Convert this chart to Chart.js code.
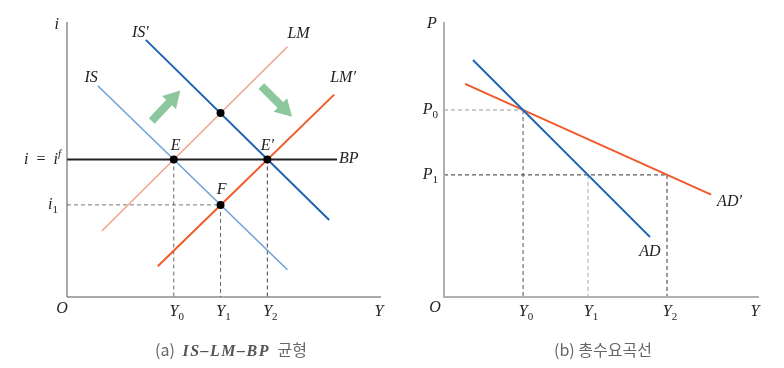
<!DOCTYPE html>
<html>
<head>
<meta charset="utf-8">
<script src="https://cdn.jsdelivr.net/npm/chart.js@4"></script>
<style>
  body { margin: 0; background: #fff; }
  #wrap { position: relative; width: 784px; height: 368px; }
  canvas { position: absolute; top: 0; }
  .cap { position: absolute; top: 337px; font: 16px "Noto Sans CJK KR", "Noto Sans", sans-serif; color: #666; white-space: nowrap; transform: translateX(-50%); }
  .cap i { font-family: "Liberation Serif", serif; font-weight: bold; color: #555; letter-spacing: 1.5px; margin: 0 4px; }
</style>
</head>
<body>
<div id="wrap">
  <canvas id="left" width="392" height="368" style="left:0"></canvas>
  <canvas id="right" width="392" height="368" style="left:392px"></canvas>
  <div class="cap" style="left:231px">(a) <i>IS–LM–BP</i> 균형</div>
  <div class="cap" style="left:603px">(b) 총수요곡선</div>
</div>
<script>
// (a) IS-LM-BP, axis units 0..10
let outputLevels = [3.4, 4.89, 6.38];       // Y0, Y1, Y2
let outputLabels = ["Y_0", "Y_1", "Y_2"];
let rateWorld = 5;                          // i = i^f
let rateLow = 3.35;                         // i1
let midRate = 6.69;

let isX = [0.98, 7.02],   isY = [7.68, 0.99];
let is2X = [2.51, 8.35],  is2Y = [9.35, 2.8];
let lmX = [1.11, 7.02],   lmY = [2.4, 9.1];
let lm2X = [2.89, 8.51],  lm2Y = [1.12, 7.36];
let bpX = [0, 8.6];

let arrowUpX = [2.7, 3.37],   arrowUpY = [6.4, 7.22];
let arrowDownX = [6.19, 6.92], arrowDownY = [7.67, 6.84];

// (b) aggregate demand
let adOutput = [2.51, 4.57, 7.08];          // Y0, Y1, Y2
let priceLevels = [6.8, 4.44];              // P0, P1
let adX = [0.92, 6.54],  adY = [8.62, 2.18];
let ad2X = [0.67, 8.48], ad2Y = [7.75, 3.72];

function pts(xs, ys) {
    return xs.map((x, i) => ({ x: x, y: ys[i] }));
}

function line(data, color, width, extra) {
    return Object.assign({
        data: data, showLine: true, borderColor: color, borderWidth: width,
        pointRadius: 0, order: 1, clip: false
    }, extra || {});
}

function dashed(data, color) {
    return line(data, color, 1, { borderDash: [4, 3], order: 2 });
}

function arrow(xs, ys, rot) {
    return line(pts(xs, ys), "#8cc79e", 8, {
        borderCapStyle: "butt",
        pointStyle: "triangle",
        pointRadius: [0, 11],
        pointRotation: [0, rot],
        pointBackgroundColor: "#8cc79e",
        pointBorderWidth: 0
    });
}

// draw "IS′", "Y_0", "i = i^f" style labels
function drawRich(ctx, text, x, y, align) {
    let parts = [];
    for (let k = 0; k < text.length; k++) {
        let c = text[k];
        if (c === "_") { parts.push({ t: text[++k], sub: true }); continue; }
        if (c === "^") { parts.push({ t: text[++k], sup: true, it: true }); continue; }
        parts.push({ t: c, it: /[A-Za-z′]/.test(c) });
    }
    let font = p => (p.it ? "italic " : "") + (p.sub || p.sup ? "11px" : "16px") + ' "Liberation Serif"';
    let w = 0;
    parts.forEach(p => { ctx.font = font(p); w += ctx.measureText(p.t).width; });
    let cx = align === "right" ? x - w : align === "center" ? x - w / 2 : x;
    ctx.textAlign = "left";
    ctx.textBaseline = "middle";
    ctx.fillStyle = "#222";
    parts.forEach(p => {
        ctx.font = font(p);
        ctx.fillText(p.t, cx, y + (p.sub ? 5 : p.sup ? -5 : 0));
        cx += ctx.measureText(p.t).width;
    });
}

const labelPlugin = {
    id: "labels",
    afterDatasetsDraw(chart, args, opts) {
        let ctx = chart.ctx, xs = chart.scales.x, ys = chart.scales.y, a = chart.chartArea;
        ctx.save();
        // axes
        ctx.strokeStyle = opts.axisColor;
        ctx.lineWidth = opts.axisWidth;
        ctx.beginPath();
        ctx.moveTo(a.left, a.top);
        ctx.lineTo(a.left, a.bottom);
        ctx.lineTo(a.right, a.bottom);
        ctx.stroke();
        opts.items.forEach(l => {
            drawRich(ctx, l.text, xs.getPixelForValue(l.x) + (l.dx || 0),
                ys.getPixelForValue(l.y) + (l.dy || 0), l.align || "center");
        });
        ctx.restore();
    }
};

function baseOptions(pad, axisColor, axisWidth, items) {
    return {
        responsive: false,
        animation: false,
        layout: { padding: pad },
        scales: {
            x: { type: "linear", min: 0, max: 10, display: false },
            y: { type: "linear", min: 0, max: 10, display: false }
        },
        plugins: {
            legend: { display: false },
            tooltip: { enabled: false },
            labels: { axisColor: axisColor, axisWidth: axisWidth, items: items }
        }
    };
}

// ---- panel (a)
let leftItems = [
    { text: "i", x: 0, y: 10, dx: -8, dy: 3, align: "right" },
    { text: "IS′", x: is2X[0], y: is2Y[0], dx: 3, dy: -7, align: "right" },
    { text: "LM", x: lmX[1], y: lmY[1], dx: 0, dy: -13, align: "left" },
    { text: "IS", x: isX[0], y: isY[0], dx: 0, dy: -8, align: "right" },
    { text: "LM′", x: lm2X[1], y: lm2Y[1], dx: -4, dy: -17, align: "left" },
    { text: "E", x: outputLevels[0], y: rateWorld, dx: 2, dy: -14 },
    { text: "E′", x: outputLevels[2], y: rateWorld, dx: 0, dy: -14 },
    { text: "BP", x: bpX[1], y: rateWorld, dx: 2, dy: -1, align: "left" },
    { text: "F", x: outputLevels[1], y: rateLow, dx: 1, dy: -15 },
    { text: "i  =  i^f", x: 0, y: rateWorld, dx: -6, dy: 0, align: "right" },
    { text: "i_1", x: 0, y: rateLow, dx: -9, dy: 0, align: "right" },
    { text: "O", x: 0, y: 0, dx: -5, dy: 12 },
    { text: "Y", x: 10, y: 0, dx: -2, dy: 15 }
];
outputLabels.forEach((t, i) => leftItems.push({ text: t, x: outputLevels[i], y: 0, dx: 3, dy: 15 }));

new Chart(document.getElementById("left"), {
    type: "scatter",
    data: {
        datasets: [
            line([{ x: outputLevels[0], y: rateWorld }, { x: outputLevels[1], y: midRate },
                  { x: outputLevels[2], y: rateWorld }, { x: outputLevels[1], y: rateLow }],
                 "#000", 0, { showLine: false, pointRadius: 4, pointBackgroundColor: "#000", order: 0 }),
            line(pts(bpX, [rateWorld, rateWorld]), "#222", 2),
            line(pts(isX, isY), "#6fa3d8", 1.6),
            line(pts(is2X, is2Y), "#1f62b4", 2),
            line(pts(lmX, lmY), "#f4a48c", 1.6),
            line(pts(lm2X, lm2Y), "#f05a28", 2),
            arrow(arrowUpX, arrowUpY, 43),
            arrow(arrowDownX, arrowDownY, 135),
            dashed([{ x: outputLevels[0], y: rateWorld }, { x: outputLevels[0], y: 0 }], "#666"),
            dashed([{ x: outputLevels[1], y: rateLow }, { x: outputLevels[1], y: 0 }], "#666"),
            dashed([{ x: outputLevels[2], y: rateWorld }, { x: outputLevels[2], y: 0 }], "#444"),
            dashed([{ x: 0, y: rateLow }, { x: outputLevels[1], y: rateLow }], "#777")
        ]
    },
    options: baseOptions({ left: 67, right: 10, top: 22, bottom: 71 }, "#555", 1, leftItems),
    plugins: [labelPlugin]
});

// ---- panel (b)
let rightItems = [
    { text: "P", x: 0, y: 10, dx: -12, dy: 2 },
    { text: "P_0", x: 0, y: priceLevels[0], dx: -6, dy: 0, align: "right" },
    { text: "P_1", x: 0, y: priceLevels[1], dx: -6, dy: 0, align: "right" },
    { text: "AD", x: adX[1], y: adY[1], dx: 0, dy: 15 },
    { text: "AD′", x: ad2X[1], y: ad2Y[1], dx: 6, dy: 7, align: "left" },
    { text: "O", x: 0, y: 0, dx: -9, dy: 11 },
    { text: "Y", x: 10, y: 0, dx: -4, dy: 15 }
];
outputLabels.forEach((t, i) => rightItems.push({ text: t, x: adOutput[i], y: 0, dx: 3, dy: 15 }));

new Chart(document.getElementById("right"), {
    type: "scatter",
    data: {
        datasets: [
            line(pts(adX, adY), "#2266b8", 2),
            line(pts(ad2X, ad2Y), "#f05a2a", 2),
            dashed([{ x: 0, y: priceLevels[0] }, { x: adOutput[0], y: priceLevels[0] }], "#999"),
            dashed([{ x: 0, y: priceLevels[1] }, { x: adOutput[2], y: priceLevels[1] }], "#333"),
            dashed([{ x: adOutput[0], y: priceLevels[0] }, { x: adOutput[0], y: 0 }], "#555"),
            dashed([{ x: adOutput[1], y: priceLevels[1] }, { x: adOutput[1], y: 0 }], "#aaa"),
            dashed([{ x: adOutput[2], y: priceLevels[1] }, { x: adOutput[2], y: 0 }], "#333")
        ]
    },
    options: baseOptions({ left: 52, right: 25, top: 22, bottom: 71 }, "#b0b0b0", 2, rightItems),
    plugins: [labelPlugin]
});
</script>
</body>
</html>
